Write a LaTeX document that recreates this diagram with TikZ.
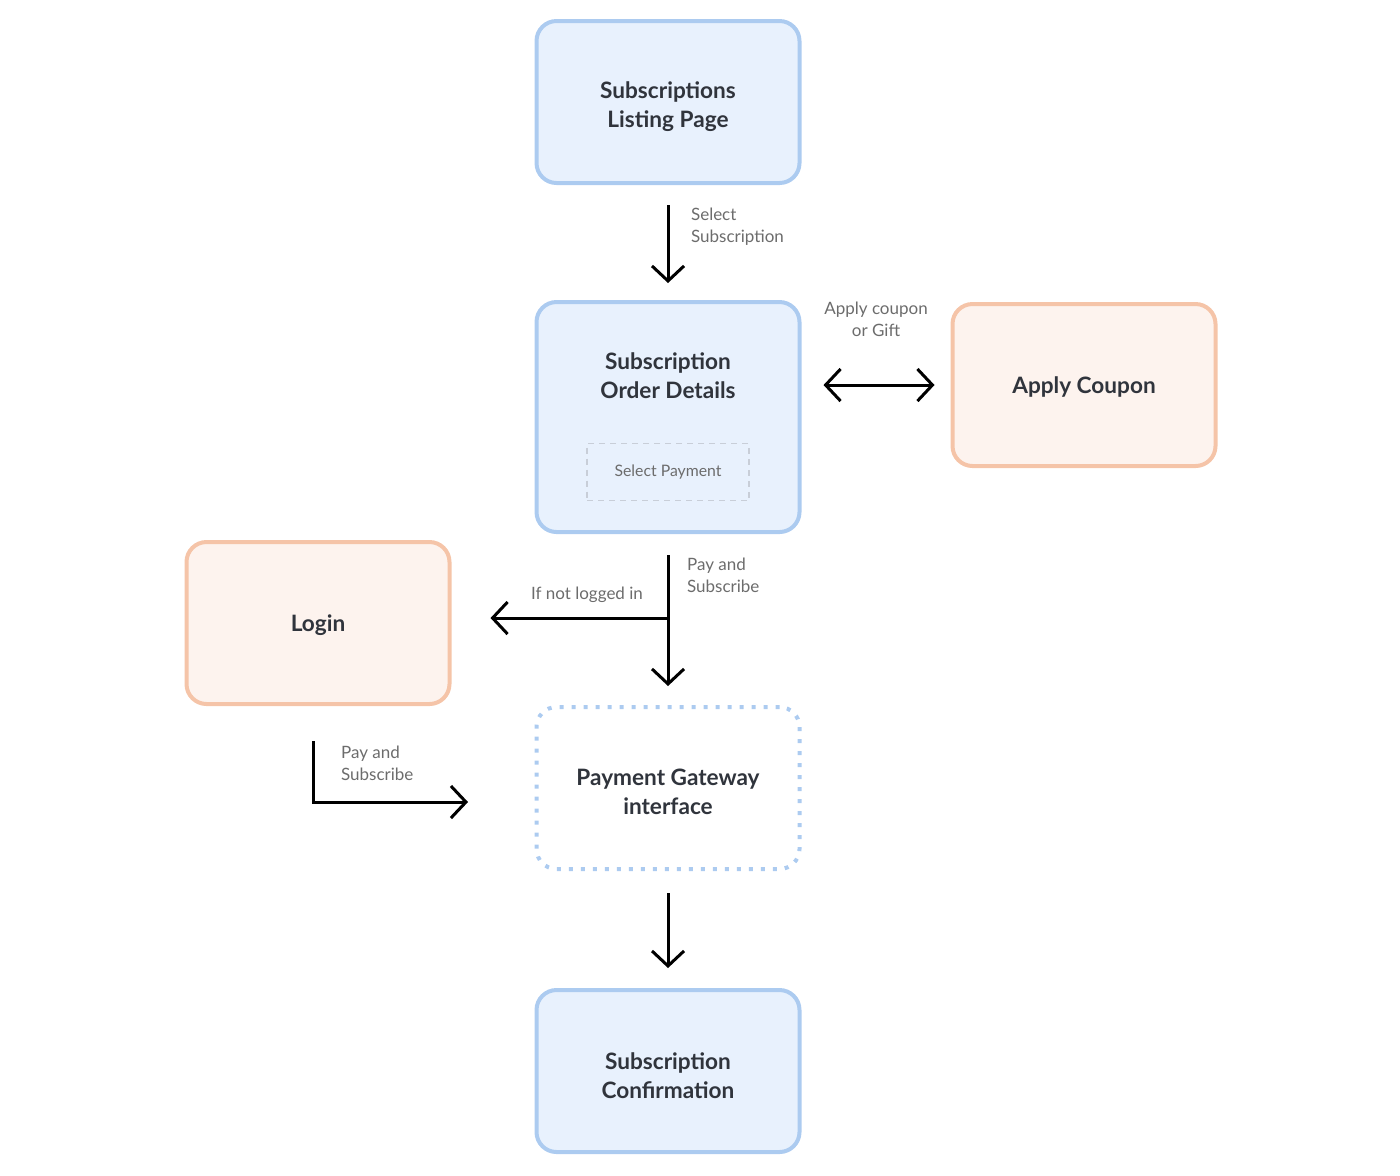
\documentclass[tikz,border=0pt]{standalone}
\usepackage{fontspec}
\setmainfont{Lato}
\usetikzlibrary{arrows.meta}
\definecolor{boxBlue}{RGB}{232,241,253}
\definecolor{edgeBlue}{RGB}{172,203,240}
\definecolor{boxPeach}{RGB}{253,243,238}
\definecolor{edgePeach}{RGB}{245,196,168}
\definecolor{textDark}{RGB}{48,52,60}
\definecolor{textGray}{RGB}{108,108,108}
\definecolor{dashGray}{RGB}{200,206,216}

\tikzset{
  boxtitle/.style={align=center, text=textDark, font=\bfseries\fontsize{11.3}{14.5}\selectfont},
  flowbox/.style={boxtitle, rectangle, rounded corners=10pt, line width=2pt, minimum width=131.5pt, minimum height=81pt,
    text depth=-2pt},
  bluebox/.style={flowbox, draw=edgeBlue, fill=boxBlue},
  peachbox/.style={flowbox, draw=edgePeach, fill=boxPeach},
  flowarrow/.style={line width=1.5pt, -{Straight Barb[length=7.5pt, width=16pt, line width=1.5pt]}},
  edgelabel/.style={text=textGray, align=left, font=\fontsize{8.5}{11}\selectfont}
}

\begin{document}
\begin{tikzpicture}[x=0.5pt, y=0.5pt]
  \useasboundingbox (0,0) rectangle (1400,-1175);

  \node[bluebox] (listing) at (668,-102) {};
  \node[boxtitle] (listingTitle) at (668,-106.5) {Subscriptions\\Listing Page};
  \node[bluebox, minimum height=115pt] (order) at (668,-417) {};
  \node[boxtitle] (orderTitle) at (668,-375.5) {Subscription\\Order Details};
  \node[draw=dashGray, line width=0.8pt, dash pattern=on 3pt off 2.5pt, minimum width=81pt, minimum height=28.5pt,
    text=textGray, font=\fontsize{7.9}{9}\selectfont] (payment) at (668,-472) {Select Payment};
  \node[peachbox] (coupon) at (1084,-385) {Apply Coupon};
  \node[peachbox] (login) at (318,-623) {Login};
  \node[flowbox, draw=edgeBlue, dash pattern=on 2pt off 4pt] (gateway) at (668,-788) {};
  \node[boxtitle] (gatewayTitle) at (668,-791.5) {Payment Gateway\\interface};
  \node[bluebox] (confirm) at (668,-1071) {};
  \node[boxtitle] (confirmTitle) at (668,-1075.5) {Subscription\\Confirmation};

  \coordinate (branch) at (668,-618);
  \coordinate (loginOut) at (313,-741);
  \coordinate (gatewayIn) at (468,-802);

  \draw[flowarrow, shorten <=10pt, shorten >=8.5pt] (listing) -- (order);
  \draw[line width=1.5pt, {Straight Barb[length=7.5pt, width=16pt, line width=1.5pt]}-{Straight Barb[length=7.5pt, width=16pt, line width=1.5pt]},
    shorten <=11pt, shorten >=8pt] (coupon.west -| order.east) -- (coupon.west);
  \draw[flowarrow, shorten <=10.5pt, shorten >=9.5pt] (order) -- (gateway);
  \draw[flowarrow, shorten >=19.5pt] (branch) -- (branch -| login.east);
  \draw[flowarrow] (loginOut) |- (gatewayIn);
  \draw[flowarrow, shorten <=11pt, shorten >=10pt] (gateway) -- (confirm);

  \node[edgelabel, anchor=west] (selLabel) at (684,-227) {Select\\Subscription};
  \node[edgelabel, align=center] (couponLabel) at (876,-319) {Apply coupon\\or Gift};
  \node[edgelabel, anchor=west] (payLabel) at (680,-575) {Pay and\\Subscribe};
  \node[edgelabel] (loginLabel) at (587,-595) {If not logged in};
  \node[edgelabel, anchor=west] (loginPayLabel) at (334,-763) {Pay and\\Subscribe};
\end{tikzpicture}
\end{document}
